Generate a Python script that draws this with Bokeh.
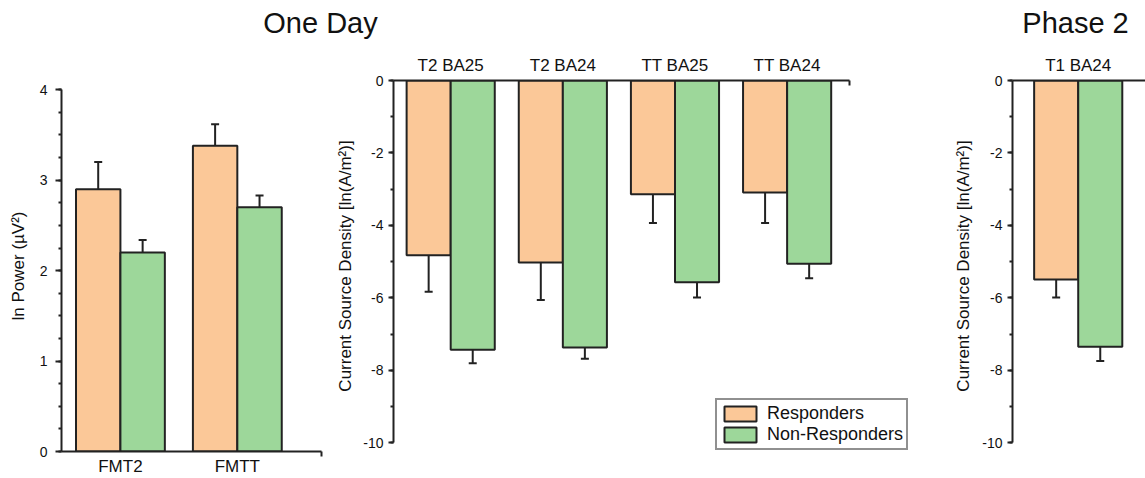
from bokeh.plotting import figure
from bokeh.models import (Range1d, FixedTicker, SingleIntervalTicker, Legend, LegendItem,
                          PrintfTickFormatter)
from bokeh.layouts import column, row
from bokeh.core.properties import value
from bokeh.embed import file_html
from bokeh.resources import INLINE

# ---------------- data ----------------
left_categories = ["FMT2", "FMTT"]
left_resp = [2.90, 3.38]
left_resp_err = [0.30, 0.24]
left_non = [2.20, 2.70]
left_non_err = [0.14, 0.13]

mid_categories = ["T2 BA25", "T2 BA24", "TT BA25", "TT BA24"]
mid_resp = [-4.82, -5.02, -3.14, -3.09]
mid_resp_err = [1.01, 1.04, 0.79, 0.84]
mid_non = [-7.43, -7.37, -5.57, -5.06]
mid_non_err = [0.37, 0.31, 0.42, 0.40]

right_categories = ["T1 BA24"]
right_resp = [-5.49]
right_resp_err = [0.50]
right_non = [-7.35]
right_non_err = [0.39]

titles = ["One Day", "Phase 2"]
series_names = ["Responders", "Non-Responders"]

# ---------------- style ----------------
FONT = "Liberation Sans"
ORANGE = "#FBC898"
GREEN = "#9DD79A"
EDGE = "#222222"
AXIS = "#222222"
TITLE_H = 46
TOP_B = 34
BOT_B = 26
PANEL_H = 478 - TITLE_H


def base_fig(width, x_range, y_range, left, right, **kw):
    p = figure(width=width, height=PANEL_H, x_range=x_range, y_range=y_range,
               output_backend="svg", toolbar_location=None,
               min_border_left=left, min_border_right=right,
               min_border_top=TOP_B, min_border_bottom=BOT_B, **kw)
    p.outline_line_color = None
    p.grid.visible = False
    p.background_fill_color = "white"
    p.border_fill_color = "white"
    return p


def style_axes(p):
    for ax in p.axis:
        ax.axis_line_color = AXIS
        ax.axis_line_width = 2
        ax.major_tick_line_color = AXIS
        ax.minor_tick_line_color = AXIS
        ax.major_tick_line_width = 2
        ax.minor_tick_line_width = 2
        ax.major_label_text_font = FONT
        ax.axis_label_text_font = FONT
        ax.axis_label_text_font_style = "normal"
        ax.axis_label_text_font_size = "17px"
        ax.major_label_text_color = "#111111"
        ax.axis_label_text_color = "#111111"


def style_yaxis(ax, tick_out, standoff, label, label_standoff):
    ax.formatter = PrintfTickFormatter(format="%d")
    ax.major_tick_out = tick_out
    ax.major_tick_in = 0
    ax.minor_tick_out = 3
    ax.minor_tick_in = 0
    ax.major_label_text_font_size = "14px"
    ax.major_label_standoff = standoff
    ax.axis_label = label
    ax.axis_label_standoff = label_standoff


def draw_bars(p, centers, resp, resp_err, non, non_err, w):
    xr = [c - w / 2 for c in centers]
    xn = [c + w / 2 for c in centers]
    r1 = p.vbar(x=xr, top=resp, bottom=0, width=w, fill_color=ORANGE,
                line_color=EDGE, line_width=2)
    r2 = p.vbar(x=xn, top=non, bottom=0, width=w, fill_color=GREEN,
                line_color=EDGE, line_width=2)
    for xs, vals, errs in ((xr, resp, resp_err), (xn, non, non_err)):
        ends = [v + (e if v >= 0 else -e) for v, e in zip(vals, errs)]
        p.segment(x0=xs, y0=vals, x1=xs, y1=ends, line_color=EDGE, line_width=2)
        p.scatter(x=xs, y=ends, marker="dash", size=8, line_color=EDGE, line_width=2)
    return r1, r2


def cat_axis(ax, cats, end_tick, tick_in, tick_out, standoff):
    ax.ticker = FixedTicker(ticks=list(range(1, len(cats) + 1)), minor_ticks=end_tick)
    ax.major_label_overrides = {i + 1: c for i, c in enumerate(cats)}
    ax.major_tick_in = 0
    ax.major_tick_out = 0
    ax.minor_tick_in = tick_in
    ax.minor_tick_out = tick_out
    ax.major_label_text_font_size = "17px"
    ax.major_label_standoff = standoff


# ---------------- title strip ----------------
pt = figure(width=1145, height=TITLE_H, x_range=Range1d(0, 1145), y_range=Range1d(TITLE_H, 0),
            output_backend="svg", toolbar_location=None,
            x_axis_location=None, y_axis_location=None,
            min_border_left=0, min_border_right=0, min_border_top=0, min_border_bottom=0)
pt.outline_line_color = None
pt.grid.visible = False
pt.text(x=[320, 1075], y=[22, 22], text=titles, text_font=value(FONT),
        text_font_size="29px", text_align="center", text_baseline="middle",
        text_color="#111111")

# ---------------- left panel ----------------
p1 = base_fig(330, Range1d(0.496, 2.72), Range1d(0, 4.1025), 61, 9)
style_axes(p1)
draw_bars(p1, [1, 2], left_resp, left_resp_err, left_non, left_non_err, 0.38)
cat_axis(p1.xaxis[0], left_categories, [2.718], 0, 5, 0)
p1.yaxis.ticker = SingleIntervalTicker(interval=1, num_minor_ticks=4)
p1.yaxis.bounds = (0, 4)
style_yaxis(p1.yaxis[0], 6, 8, "ln Power (µV²)", 9)

# ---------------- middle panel ----------------
p2 = base_fig(610, Range1d(0.49, 5.118), Range1d(-10.239, 0), 63, 28, x_axis_location="above")
style_axes(p2)
r_resp, r_non = draw_bars(p2, [1, 2, 3, 4], mid_resp, mid_resp_err, mid_non, mid_non_err, 0.393)
cat_axis(p2.xaxis[0], mid_categories, [4.554], 5, 0, 6)
p2.xaxis.bounds = (0.49, 4.556)
p2.yaxis.ticker = SingleIntervalTicker(interval=2, num_minor_ticks=2)
p2.yaxis.bounds = (-10, 0)
style_yaxis(p2.yaxis[0], 5, 5, "Current Source Density [ln(A/m²)]", 5)

legend = Legend(items=[LegendItem(label=series_names[0], renderers=[r_resp]),
                       LegendItem(label=series_names[1], renderers=[r_non])],
                location=(322, 1), orientation="vertical",
                label_text_font=FONT, label_text_font_size="18px", label_text_color="#111111",
                glyph_width=40, glyph_height=19, label_height=19, label_standoff=7,
                spacing=0, padding=3, margin=0,
                border_line_color="#222222", border_line_width=2,
                background_fill_color="white", background_fill_alpha=1.0)
p2.add_layout(legend)

# ---------------- right panel ----------------
p3 = base_fig(205, Range1d(0.414, 1.60), Range1d(-10.239, 0), 72, 0, x_axis_location="above")
style_axes(p3)
draw_bars(p3, [1], right_resp, right_resp_err, right_non, right_non_err, 0.393)
cat_axis(p3.xaxis[0], right_categories, [], 5, 0, 6)
p3.yaxis.ticker = SingleIntervalTicker(interval=2, num_minor_ticks=2)
p3.yaxis.bounds = (-10, 0)
style_yaxis(p3.yaxis[0], 5, 5, "Current Source Density [ln(A/m²)]", 6)

layout = column(pt, row(p1, p2, p3, spacing=0), spacing=0)

open("out.html", "w").write(file_html(layout, INLINE))
